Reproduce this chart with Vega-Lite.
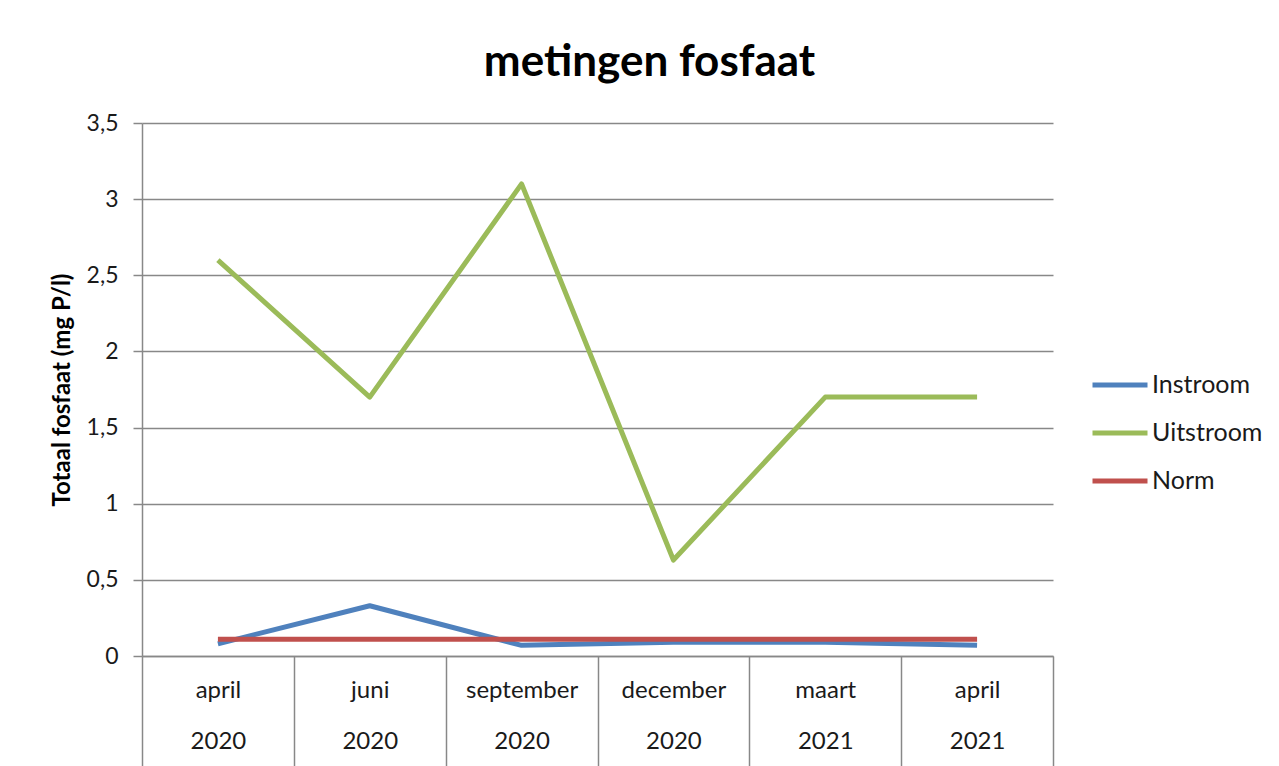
{
  "$schema": "https://vega.github.io/schema/vega-lite/v6.json",
  "width": 911,
  "height": 533,
  "autosize": {"type": "none"},
  "padding": {"left": 142, "top": 123, "right": 226, "bottom": 110},
  "background": "white",
  "title": {
    "text": "metingen fosfaat",
    "fontSize": 44,
    "fontWeight": "bold",
    "font": "Lato",
    "color": "#000000",
    "anchor": "middle",
    "dx": 52,
    "offset": 27
  },
  "data": {
    "values": [
      {"periode": "april|2020", "serie": "Instroom", "waarde": 0.08},
      {"periode": "juni|2020", "serie": "Instroom", "waarde": 0.33},
      {"periode": "september|2020", "serie": "Instroom", "waarde": 0.07},
      {"periode": "december|2020", "serie": "Instroom", "waarde": 0.09},
      {"periode": "maart|2021", "serie": "Instroom", "waarde": 0.09},
      {"periode": "april|2021", "serie": "Instroom", "waarde": 0.07},
      {"periode": "april|2020", "serie": "Uitstroom", "waarde": 2.6},
      {"periode": "juni|2020", "serie": "Uitstroom", "waarde": 1.7},
      {"periode": "september|2020", "serie": "Uitstroom", "waarde": 3.1},
      {"periode": "december|2020", "serie": "Uitstroom", "waarde": 0.63},
      {"periode": "maart|2021", "serie": "Uitstroom", "waarde": 1.7},
      {"periode": "april|2021", "serie": "Uitstroom", "waarde": 1.7},
      {"periode": "april|2020", "serie": "Norm", "waarde": 0.11},
      {"periode": "juni|2020", "serie": "Norm", "waarde": 0.11},
      {"periode": "september|2020", "serie": "Norm", "waarde": 0.11},
      {"periode": "december|2020", "serie": "Norm", "waarde": 0.11},
      {"periode": "maart|2021", "serie": "Norm", "waarde": 0.11},
      {"periode": "april|2021", "serie": "Norm", "waarde": 0.11}
    ]
  },
  "mark": {"type": "line", "strokeWidth": 5, "strokeJoin": "round", "strokeCap": "butt"},
  "encoding": {
    "x": {
      "field": "periode",
      "type": "nominal",
      "sort": ["april|2020", "juni|2020", "september|2020", "december|2020", "maart|2021", "april|2021"],
      "scale": {"type": "band", "paddingInner": 0, "paddingOuter": 0},
      "axis": {
        "title": null,
        "labelAngle": 0,
        "labelExpr": "split(datum.label, '|')",
        "labelLineHeight": 51,
        "labelFontSize": 24,
        "labelColor": "#1a1a1a",
        "labelBaseline": "top",
        "labelPadding": -88,
        "tickBand": "extent",
        "tickSize": 110,
        "tickColor": "#888888",
        "tickWidth": 1.5,
        "domainColor": "#888888",
        "domainWidth": 1.5,
        "grid": false
      }
    },
    "y": {
      "field": "waarde",
      "type": "quantitative",
      "scale": {"domain": [0, 3.5], "nice": false},
      "axis": {
        "title": "Totaal fosfaat (mg P/l)",
        "titleFontSize": 24,
        "titleFontWeight": "bold",
        "titleColor": "#000000",
        "titlePadding": 12,
        "values": [0, 0.5, 1, 1.5, 2, 2.5, 3, 3.5],
        "labelExpr": "replace(format(datum.value, ''), '.', ',')",
        "labelFontSize": 23,
        "labelColor": "#1a1a1a",
        "labelPadding": 15,
        "tickSize": 9,
        "tickColor": "#888888",
        "tickWidth": 1.5,
        "domainColor": "#888888",
        "domainWidth": 1.5,
        "grid": true,
        "gridColor": "#888888",
        "gridWidth": 1.5
      }
    },
    "color": {
      "field": "serie",
      "type": "nominal",
      "scale": {"domain": ["Instroom", "Uitstroom", "Norm"], "range": ["#4F81BD", "#9BBB59", "#C0504D"]},
      "legend": {
        "title": null,
        "orient": "none",
        "legendX": 948,
        "legendY": 232,
        "symbolType": "stroke",
        "symbolSize": 3025,
        "symbolStrokeWidth": 5,
        "labelFontSize": 25,
        "labelColor": "#1a1a1a",
        "labelOffset": 2,
        "rowPadding": 5,
        "padding": 0
      }
    }
  },
  "config": {
    "font": "Lato",
    "view": {"stroke": null}
  }
}
